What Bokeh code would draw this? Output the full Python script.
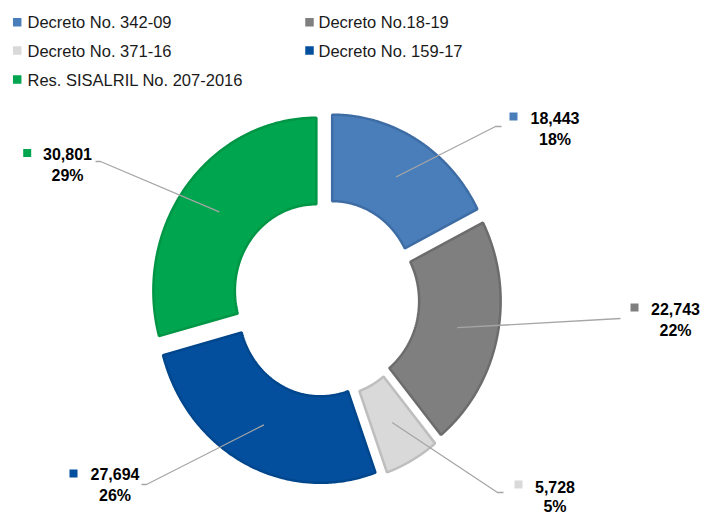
import numpy as np
from bokeh.plotting import figure
from bokeh.models import Range1d
from bokeh.embed import file_html
from bokeh.resources import INLINE
from bokeh.core.properties import value

# ---- data ----
categories = ["Decreto No. 342-09", "Decreto No.18-19", "Decreto No. 371-16",
              "Decreto No. 159-17", "Res. SISALRIL No. 207-2016"]
values = [18443, 22743, 5728, 27694, 30801]
value_labels = ["18,443", "22,743", "5,728", "27,694", "30,801"]
pct_labels = ["18%", "22%", "5%", "26%", "29%"]

# ---- styles ----
fill_colors = ["#4A7EBB", "#7F7F7F", "#D9D9D9", "#034F9D", "#00A54F"]
line_colors = ["#3E6DA5", "#6C6C6C", "#BEBEBE", "#00468C", "#009646"]
FONT = "Liberation Sans"

# ---- geometry (page pixel coordinates) ----
CX, CY = 325.4, 298.0
RX, RY = 163.0, 173.0
HOLE = 0.5
EXPLODE = 12.0
EY = RY / RX

total = float(sum(values))
fracs = np.array(values) / total
ends = np.cumsum(fracs) * 2 * np.pi
starts = ends - fracs * 2 * np.pi

xs, ys, lead_start = [], [], []
for a0, a1 in zip(starts, ends):
    mid = (a0 + a1) / 2
    ox = CX + EXPLODE * np.sin(mid)
    oy = CY - EXPLODE * EY * np.cos(mid)
    t = np.linspace(a0, a1, 160)
    ti = t[::-1]
    px = np.concatenate([ox + RX * np.sin(t), ox + HOLE * RX * np.sin(ti)])
    py = np.concatenate([oy - RY * np.cos(t), oy - HOLE * RY * np.cos(ti)])
    xs.append(px.tolist())
    ys.append(py.tolist())
    k = (1 + HOLE) / 2
    lead_start.append((ox + k * RX * np.sin(mid), oy - k * RY * np.cos(mid)))

p = figure(width=706, height=516, x_range=Range1d(0, 706), y_range=Range1d(516, 0),
           output_backend="svg", toolbar_location=None, min_border=0)
p.axis.visible = False
p.grid.visible = False
p.outline_line_color = None
p.background_fill_color = "white"

p.patches(xs=xs, ys=ys, fill_color=fill_colors, line_color=line_colors, line_width=2.5)

# ---- leader lines & labels (layout) ----
elbow = [(495, 126), (620, 318), (497, 492), (146, 484), (100, 161)]
lead_end = [(501, 126), (620, 318), (503, 492), (141, 484), (95, 161)]
marker_xy = [(513, 116), (634, 307), (518, 484), (73, 473), (26.7, 152.5)]
label_cx = [554.5, 675, 554.5, 114.5, 67]
label_vy = [117, 308, 486, 473.5, 153.5]
label_py = [139, 330, 506, 495, 175]

lx = [[s[0], e[0], f[0]] for s, e, f in zip(lead_start, elbow, lead_end)]
ly = [[s[1], e[1], f[1]] for s, e, f in zip(lead_start, elbow, lead_end)]
p.multi_line(xs=lx, ys=ly, line_color="#A6A6A6", line_width=1.3)

p.rect(x=[m[0] for m in marker_xy], y=[m[1] for m in marker_xy], width=8, height=8,
       width_units="screen", height_units="screen", fill_color=fill_colors, line_color=None)
p.text(x=label_cx, y=label_vy, text=value_labels, text_font=value(FONT), text_font_size="16px",
       text_font_style="bold", text_align="center", text_baseline="middle", text_color="#000000")
p.text(x=label_cx, y=label_py, text=pct_labels, text_font=value(FONT),
       text_font_size="16px", text_font_style="bold", text_align="center",
       text_baseline="middle", text_color="#000000")

# ---- legend ----
leg_sq_x = [16.7, 309, 16.7, 309, 16.7]
leg_tx = [27, 318, 27, 318, 27]
leg_y = [21.7, 21.7, 50, 50, 79]
p.rect(x=leg_sq_x, y=leg_y, width=8.5, height=8.5, width_units="screen", height_units="screen",
       fill_color=fill_colors, line_color=None)
p.text(x=leg_tx, y=leg_y, text=categories, text_font=value(FONT), text_font_size="16.5px",
       text_align="left", text_baseline="middle", text_color="#1A1A1A")

open("out.html", "w").write(file_html(p, INLINE))
